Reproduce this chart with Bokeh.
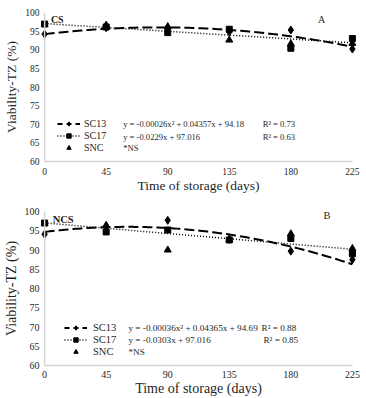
import numpy as np
from bokeh.plotting import figure
from bokeh.models import Range1d, Span, Legend, LegendItem, Label, FixedTicker
from bokeh.layouts import column
from bokeh.embed import file_html
from bokeh.resources import INLINE

# ---- data ----
days = [0, 45, 90, 135, 180, 225]
y_ticks = [60, 65, 70, 75, 80, 85, 90, 95, 100]
series_names = ["SC13", "SC17", "SNC"]

a_sc13 = [94.2, 95.9, 96.0, 94.8, 95.3, 90.2]
a_sc17 = [96.9, 96.1, 94.6, 95.5, 90.4, 93.0]
a_snc = [96.8, 96.6, 96.2, 92.6, 91.6, 91.7]

b_sc13 = [94.1, 96.2, 97.7, 92.8, 89.7, 87.5]
b_sc17 = [97.0, 94.7, 95.2, 92.6, 93.0, 89.0]
b_snc = [96.9, 96.4, 90.0, 92.7, 94.2, 90.4]

# trend-line coefficients as printed on the chart (highest power first)
a_fit_sc13 = [-0.00026, 0.04357, 94.18]
a_fit_sc17 = [-0.0229, 97.016]
b_fit_sc13 = [-0.00036, 0.04365, 94.69]
b_fit_sc17 = [-0.0303, 97.016]

a_eq = ["y = -0.00026x\u00b2 + 0.04357x + 94.18", "y = -0.0229x + 97.016", "*NS"]
a_r2 = ["R\u00b2 = 0.73", "R\u00b2 = 0.63"]
b_eq = ["y = -0.00036x\u00b2 + 0.04365x + 94.69", "y = -0.0303x + 97.016", "*NS"]
b_r2 = ["R\u00b2 = 0.88", "R\u00b2 = 0.85"]

FONT = "'Liberation Serif', 'Times New Roman', serif"
TXT = "#1f1f1f"
AX = "#d4d4d4"


def panel(h, bl, br, bt, bb, sc13, sc17, snc, fit13, fit17, eqs, r2s, tag, letter,
          tag_pos, letter_pos, leg_loc, eq_x, r2_x, row_y, tick_fs, title_fs, eq_fs, leg_fs,
          xstand, ystand, xtitle_stand, leg_standoff):
    p = figure(width=366, height=h, x_range=Range1d(-3, 228), y_range=Range1d(60, 100),
               output_backend="svg", toolbar_location=None,
               min_border_left=bl, min_border_right=br, min_border_top=bt, min_border_bottom=bb)
    p.outline_line_color = None
    p.grid.visible = False
    p.background_fill_color = "white"

    for ax in (p.xaxis[0], p.yaxis[0]):
        ax.major_tick_line_color = None
        ax.minor_tick_line_color = None
        ax.major_tick_out = 0
        ax.major_tick_in = 0
        ax.major_label_text_font = FONT
        ax.major_label_text_font_size = tick_fs
        ax.major_label_text_color = TXT
        ax.axis_label_text_font = FONT
        ax.axis_label_text_font_size = title_fs
        ax.axis_label_text_font_style = "normal"
        ax.axis_label_text_color = TXT

    p.xaxis.ticker = FixedTicker(ticks=days)
    p.yaxis.ticker = FixedTicker(ticks=y_ticks)
    p.xaxis.axis_label = "Time of storage (days)"
    p.yaxis.axis_label = "Viability-TZ (%)"
    p.xaxis.bounds = (0, 225)
    p.xaxis.axis_line_color = AX
    p.xaxis.axis_line_width = 1.5
    p.yaxis.axis_line_color = None
    p.xaxis.major_label_standoff = xstand
    p.yaxis.major_label_standoff = ystand
    p.xaxis.axis_label_standoff = xtitle_stand
    p.yaxis.axis_label_standoff = 3
    p.add_layout(Span(location=0, dimension="height", line_color=AX, line_width=1.5))

    xs = np.linspace(0, 225, 120)
    p.line(xs, np.polyval(fit13, xs), line_color="black", line_width=2, line_dash="10 4")
    p.line(xs, np.polyval(fit17, xs), line_color="black", line_width=1.5, line_dash="1 2")

    s_snc = p.scatter(days, snc, marker="triangle", size=7, color="black")
    s13 = p.scatter(days, sc13, marker="diamond", size=8, color="black")
    s17 = p.scatter(days, sc17, marker="square", size=6, color="black")

    # legend-only line samples (shorter dashes, as in the original legend); no visible data
    k13 = p.line([np.nan], [np.nan], line_color="black", line_width=2, line_dash="5 4")
    k17 = p.line([np.nan], [np.nan], line_color="black", line_width=1.5, line_dash="1 2")

    leg = Legend(items=[LegendItem(label=series_names[0], renderers=[k13, s13]),
                        LegendItem(label=series_names[1], renderers=[k17, s17]),
                        LegendItem(label=series_names[2], renderers=[s_snc])],
                 location=leg_loc)
    leg.border_line_color = None
    leg.background_fill_alpha = 0
    leg.padding = 0
    leg.margin = 0
    leg.spacing = 1
    leg.glyph_width = 23
    leg.glyph_height = 11
    leg.label_height = 11
    leg.label_standoff = leg_standoff
    leg.label_text_font = FONT
    leg.label_text_font_size = leg_fs
    leg.label_text_color = TXT
    p.add_layout(leg, "center")

    for i, t in enumerate(eqs):
        p.add_layout(Label(x=eq_x, y=row_y[i], text=t, text_font=FONT, text_font_size=eq_fs,
                           text_color=TXT, text_baseline="middle"))
    for i, t in enumerate(r2s):
        p.add_layout(Label(x=r2_x[i], y=row_y[i], text=t, text_font=FONT, text_font_size=eq_fs,
                           text_color=TXT, text_baseline="middle"))

    p.add_layout(Label(x=tag_pos[0], y=tag_pos[1], text=tag, text_font=FONT, text_font_size=leg_fs,
                       text_font_style="bold", text_color=TXT, text_baseline="middle"))
    p.add_layout(Label(x=letter_pos[0], y=letter_pos[1], text=letter, text_font=FONT,
                       text_font_size=leg_fs, text_color=TXT, text_baseline="middle",
                       text_align="center"))
    return p


pA = panel(196, 37, 10, 12, 35, a_sc13, a_sc17, a_snc, a_fit_sc13, a_fit_sc17, a_eq, a_r2,
           "CS", "A", (4.6, 98.0), (202.5, 98.0), (17, 8), 57.4, [159.4, 159.4],
           [70.0, 66.7, 63.6], "9.5px", "13.5px", "8.6px", "10px", 6, 1, 0, 4)
pB = panel(202, 39, 0, 15, 31, b_sc13, b_sc17, b_snc, b_fit_sc13, b_fit_sc17, b_eq, b_r2,
           "NCS", "B", (5.9, 98.0), (206.5, 99.0), (24, 8), 61.3, [158.6, 160.0],
           [69.7, 66.5, 63.6], "10px", "14px", "9.2px", "10.5px", 5, 1, 0, 6)

layout = column(pA, pB, spacing=0)
open("out.html", "w").write(file_html(layout, INLINE))
